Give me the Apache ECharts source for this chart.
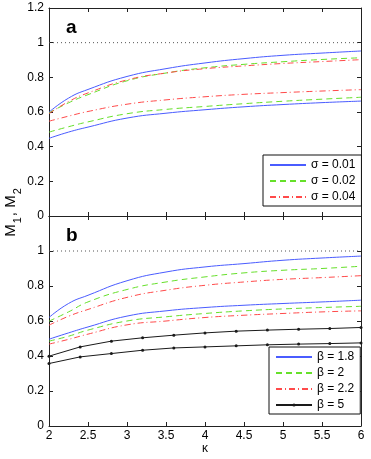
<!DOCTYPE html>
<html>
<head>
<meta charset="utf-8">
<script src="https://cdn.jsdelivr.net/npm/echarts@6/dist/echarts.min.js"></script>
<style>
  html, body { margin: 0; padding: 0; background: #fff; }
  #chart { width: 371px; height: 459px; }
</style>
</head>
<body>
<div id="chart"></div>
<script>
// kappa grid for the smooth curves, and the marker positions of the beta = 5 curves
var kappa = [2, 2.25, 2.5, 3, 3.5, 4, 4.5, 5, 5.5, 6];
var kappaMk = [2, 2.4, 2.8, 3.2, 3.6, 4, 4.4, 4.8, 5.2, 5.6, 6];
var refLevel = 1;

// panel a: sigma (upper curve = M1, lower curve = M2)
var sigmaNames = ['σ = 0.01', 'σ = 0.02', 'σ = 0.04'];
var a_s1_hi = [0.599, 0.68, 0.73, 0.805, 0.85, 0.883, 0.908, 0.927, 0.94, 0.952];
var a_s1_lo = [0.448, 0.484, 0.513, 0.565, 0.593, 0.613, 0.63, 0.643, 0.654, 0.663];
var a_s2_hi = [0.595, 0.653, 0.70, 0.78, 0.825, 0.855, 0.875, 0.89, 0.903, 0.913];
var a_s2_lo = [0.484, 0.515, 0.543, 0.59, 0.615, 0.632, 0.648, 0.662, 0.674, 0.685];
var a_s3_hi = [0.59, 0.66, 0.71, 0.785, 0.825, 0.85, 0.866, 0.88, 0.891, 0.902];
var a_s3_lo = [0.547, 0.576, 0.603, 0.645, 0.67, 0.688, 0.702, 0.712, 0.721, 0.729];

// panel b: beta
var betaNames = ['β = 1.8', 'β = 2', 'β = 2.2', 'β = 5'];
var b_b1_hi = [0.62, 0.70, 0.747, 0.83, 0.88, 0.909, 0.928, 0.947, 0.96, 0.971];
var b_b1_lo = [0.496, 0.532, 0.566, 0.628, 0.658, 0.677, 0.69, 0.70, 0.709, 0.719];
var b_b2_hi = [0.599, 0.652, 0.709, 0.78, 0.823, 0.852, 0.875, 0.89, 0.90, 0.913];
var b_b2_lo = [0.485, 0.513, 0.548, 0.60, 0.624, 0.643, 0.658, 0.669, 0.677, 0.684];
var b_b3_hi = [0.576, 0.627, 0.666, 0.735, 0.776, 0.804, 0.823, 0.838, 0.848, 0.859];
var b_b3_lo = [0.468, 0.495, 0.525, 0.578, 0.60, 0.62, 0.633, 0.643, 0.652, 0.658];
var b_b4_hi = [0.399, 0.452, 0.485, 0.504, 0.519, 0.532, 0.542, 0.548, 0.553, 0.557, 0.563];
var b_b4_lo = [0.357, 0.395, 0.414, 0.433, 0.446, 0.452, 0.458, 0.464, 0.468, 0.471, 0.475];

var FONT = 'Liberation Sans, Arial, sans-serif';
var BLUE = '#4a5cff', GREEN = '#66e02a', RED = '#ff4a4a', BLACK = '#1a1a1a';
var styles = [
  { color: BLUE, type: 'solid' },
  { color: GREEN, type: [6, 4] },
  { color: RED, type: [6, 3, 1, 3] },
  { color: BLACK, type: 'solid' }
];

function zip(xs, ys) {
  return xs.map(function (x, i) { return [x, ys[i]]; });
}

function curve(name, xs, ys, st, axis, marks) {
  return {
    name: name,
    type: 'line',
    xAxisIndex: axis,
    yAxisIndex: axis,
    data: zip(xs, ys),
    smooth: marks ? false : 0.5,
    symbol: marks ? 'circle' : 'none',
    symbolSize: 3,
    showSymbol: !!marks,
    itemStyle: { color: st.color },
    lineStyle: { color: st.color, width: 1, type: st.type },
    silent: true,
    z: 3
  };
}

function refLine(axis) {
  return {
    name: 'ref' + axis,
    type: 'line',
    xAxisIndex: axis,
    yAxisIndex: axis,
    data: [[kappa[0], refLevel], [kappa[kappa.length - 1], refLevel]],
    symbol: 'none',
    lineStyle: { color: '#555', width: 1, type: [1, 3] },
    silent: true,
    z: 2
  };
}

function xAx(grid, pos, labels) {
  return {
    type: 'value', gridIndex: grid, position: pos,
    min: 2, max: 6, interval: 0.5,
    axisLine: { show: true, onZero: false, lineStyle: { color: '#222', width: 1 } },
    axisTick: { show: true, inside: true, length: 4, lineStyle: { color: '#222' } },
    axisLabel: { show: labels, color: '#000', fontSize: 12, fontFamily: FONT, margin: 4 },
    splitLine: { show: false }
  };
}

function yAx(grid, pos, labels, hideTop) {
  return {
    type: 'value', gridIndex: grid, position: pos,
    min: 0, max: 1.2, interval: 0.2,
    axisLine: { show: true, onZero: false, lineStyle: { color: '#222', width: 1 } },
    axisTick: { show: true, inside: true, length: 4, lineStyle: { color: '#222' } },
    axisLabel: {
      show: labels, color: '#000', fontSize: 12, fontFamily: FONT, margin: 5,
      formatter: function (v) { return (hideTop && v > 1.1) ? '' : String(+v.toFixed(1)); }
    },
    splitLine: { show: false }
  };
}

var xBottom = xAx(1, 'bottom', true);
xBottom.name = 'κ';
xBottom.nameLocation = 'middle';
xBottom.nameGap = 16;
xBottom.nameTextStyle = { color: '#000', fontSize: 12, fontFamily: FONT };

var legendBase = {
  orient: 'vertical',
  backgroundColor: '#fff',
  borderColor: '#111',
  borderWidth: 1,
  borderRadius: 0,
  padding: [4, 6, 3, 6],
  itemGap: 4,
  itemWidth: 36,
  itemHeight: 4,
  selectedMode: false,
  textStyle: { color: '#000', fontSize: 12, fontFamily: FONT }
};

// legend entries: plain line icons, except beta = 5 which keeps its dot
function legendItems(names, dotted) {
  return names.map(function (n) {
    return n === dotted ? { name: n } : { name: n, itemStyle: { opacity: 0 } };
  });
}

var option = {
  animation: false,
  backgroundColor: '#fff',
  grid: [
    { left: 49, top: 8, width: 312, height: 208 },
    { left: 49, top: 216, width: 312, height: 210 }
  ],
  xAxis: [xAx(0, 'bottom', false), xBottom, xAx(0, 'top', false), xAx(1, 'top', false)],
  yAxis: [yAx(0, 'left', true, false), yAx(1, 'left', true, true), yAx(0, 'right', false, false), yAx(1, 'right', false, false)],
  legend: [
    Object.assign({}, legendBase, { left: 263, top: 155, data: legendItems(sigmaNames, null) }),
    Object.assign({}, legendBase, { left: 269, top: 347, data: legendItems(betaNames, 'β = 5') })
  ],
  graphic: [
    { type: 'text', left: 66, top: 18, style: { text: 'a', font: 'bold 19px ' + FONT, fill: '#000' } },
    { type: 'text', left: 66, top: 226, style: { text: 'b', font: 'bold 19px ' + FONT, fill: '#000' } },
    {
      type: 'text', x: 3, y: 212, rotation: Math.PI / 2,
      style: {
        text: '{m|M}{s|1}{m|, M}{s|2}',
        align: 'center', verticalAlign: 'top',
        rich: {
          m: { fontSize: 15, fontFamily: FONT, fill: '#000', lineHeight: 20, verticalAlign: 'top' },
          s: { fontSize: 11, fontFamily: FONT, fill: '#000', lineHeight: 12, verticalAlign: 'bottom', padding: [0, 1, 0, 1] }
        }
      }
    }
  ],
  series: [
    refLine(0),
    refLine(1),
    curve(sigmaNames[0], kappa, a_s1_hi, styles[0], 0),
    curve(sigmaNames[0], kappa, a_s1_lo, styles[0], 0),
    curve(sigmaNames[1], kappa, a_s2_hi, styles[1], 0),
    curve(sigmaNames[1], kappa, a_s2_lo, styles[1], 0),
    curve(sigmaNames[2], kappa, a_s3_hi, styles[2], 0),
    curve(sigmaNames[2], kappa, a_s3_lo, styles[2], 0),
    curve(betaNames[0], kappa, b_b1_hi, styles[0], 1),
    curve(betaNames[0], kappa, b_b1_lo, styles[0], 1),
    curve(betaNames[1], kappa, b_b2_hi, styles[1], 1),
    curve(betaNames[1], kappa, b_b2_lo, styles[1], 1),
    curve(betaNames[2], kappa, b_b3_hi, styles[2], 1),
    curve(betaNames[2], kappa, b_b3_lo, styles[2], 1),
    curve(betaNames[3], kappaMk, b_b4_hi, styles[3], 1, true),
    curve(betaNames[3], kappaMk, b_b4_lo, styles[3], 1, true)
  ]
};

var myChart = echarts.init(document.getElementById('chart'));
myChart.setOption(option);
</script>
</body>
</html>
